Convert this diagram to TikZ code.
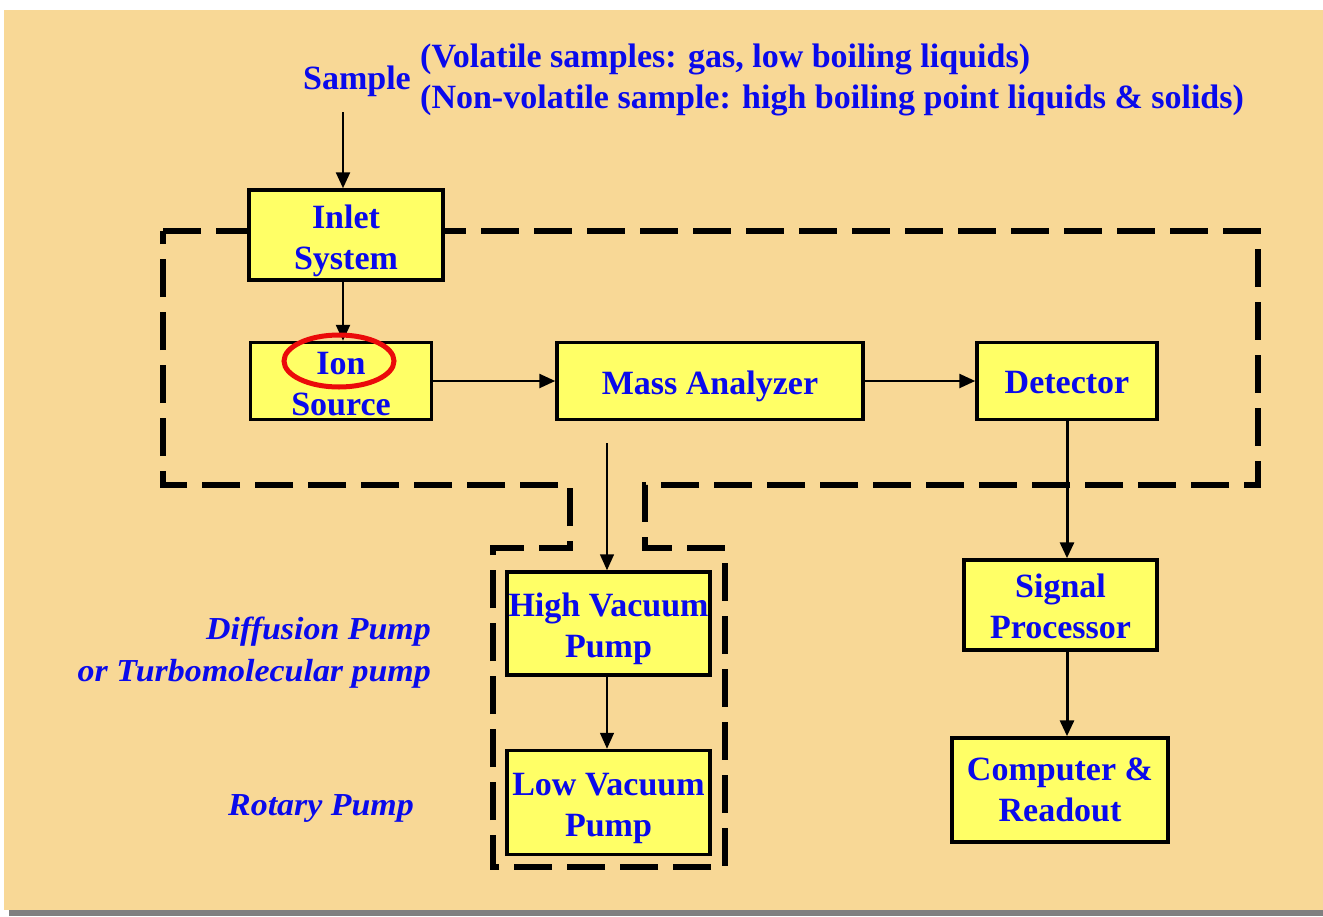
\documentclass[tikz,border=0pt]{standalone}
\usepackage{fontspec}
\setmainfont{Liberation Serif}
\newfontfamily\widefont[FakeStretch=1.06]{Liberation Serif}
\usetikzlibrary{arrows.meta,calc}
\definecolor{bgbeige}{RGB}{248,216,150}
\definecolor{boxyellow}{RGB}{255,255,102}
\definecolor{txtblue}{RGB}{10,10,235}
\definecolor{ringred}{RGB}{235,10,10}
\definecolor{bargray}{RGB}{128,128,128}
\begin{document}
\begin{tikzpicture}[x=1pt,y=-1pt,
  box/.style={draw=black, line width=3.5pt, fill=boxyellow, inner sep=0pt},
  btxt/.style={text=txtblue, font=\bfseries\fontsize{34}{41}\selectfont, align=center, inner sep=0pt},
  lbl/.style={text=txtblue, font=\bfseries\fontsize{34}{41}\selectfont, inner sep=0pt},
  ilbl/.style={text=txtblue, font=\widefont\bfseries\itshape\fontsize{32}{42}\selectfont, inner sep=0pt},
  arr/.style={-{Triangle[length=16pt,width=14pt]}, line width=2.5pt},
  thinarr/.style={-{Triangle[length=16pt,width=14pt]}, line width=1.5pt},
  thickarr/.style={-{Triangle[length=16pt,width=14pt]}, line width=3pt},
  dashpath/.style={line width=6pt, dash pattern=on 38pt off 15pt}]
\useasboundingbox (0,0) rectangle (1323,916);
% background
\fill[white] (0,0) rectangle (1323,916);
\fill[bargray] (9,906) rectangle (1323,916);
\fill[bgbeige] (4,10) rectangle (1323,910);
% vacuum enclosure
\draw[dashpath] (163,231) -- (1258,231) -- (1258,485) -- (645,485) -- (645,548)
  -- (725,548) -- (725,867) -- (493,867) -- (493,548) -- (570,548) -- (570,485)
  -- (163,485) -- cycle;
% labels
\node[lbl] (sample) at (357,81) {Sample};
\node[lbl, anchor=west, align=left] (samplenote) at (420,80)
  {(Volatile samples: gas, low boiling liquids)\\(Non-volatile sample: high boiling point liquids \& solids)};
\node[ilbl, anchor=east, align=right] (hvlabel) at (431,653) {Diffusion Pump\\or Turbomolecular pump};
\node[ilbl, anchor=east] (lvlabel) at (414,808) {Rotary Pump};
% boxes
\node[box, minimum width=194pt, minimum height=90pt,
  label={[btxt,yshift=-6pt]center:{Inlet\\System}}] (inlet) at (346,235) {};
\node[box, minimum width=181pt, minimum height=77pt,
  label={[btxt,yshift=-3pt]center:{Ion\\Source}}] (ion) at (341,381) {};
\node[box, minimum width=306pt, minimum height=77pt,
  label={[btxt,yshift=-5pt]center:{Mass Analyzer}}] (mass) at (710,381) {};
\node[box, minimum width=180pt, minimum height=77pt,
  label={[btxt,yshift=-2pt]center:{Detector}}] (det) at (1067,381) {};
\node[box, minimum width=203pt, minimum height=103pt,
  label={[btxt,yshift=-5pt]center:{High Vacuum\\Pump}}] (hvp) at (608.5,623.5) {};
\node[box, minimum width=203pt, minimum height=104pt,
  label={[btxt,yshift=-6pt]center:{Low Vacuum\\Pump}}] (lvp) at (608.5,802.5) {};
\node[box, minimum width=193pt, minimum height=90pt,
  label={[btxt,yshift=-1pt]center:{Signal\\Processor}}] (sig) at (1060.5,605) {};
\node[box, minimum width=216pt, minimum height=104pt,
  label={[btxt]center:{Computer \&\\Readout}}] (comp) at (1060,790) {};
% connectors
\coordinate (sstart) at (343,112);
\coordinate (mstart) at (607,443);
\draw[arr] (sstart) -- (sstart |- inlet.north);
\draw[arr] (inlet.south -| sstart) -- (ion.north -| sstart);
\draw[arr] (ion.east) -- (mass.west);
\draw[arr] (mass.east) -- (det.west);
\draw[thinarr] (mstart) -- (mstart |- hvp.north);
\draw[thinarr] (hvp.south -| mstart) -- (lvp.north -| mstart);
\draw[thickarr] (det.south) -- (det.south |- sig.north);
\draw[thickarr] (sig.south -| det.south) -- (comp.north -| det.south);
% highlight ring
\draw[ringred, line width=5pt] (339,361) ellipse [x radius=55, y radius=26];
\end{tikzpicture}
\end{document}
